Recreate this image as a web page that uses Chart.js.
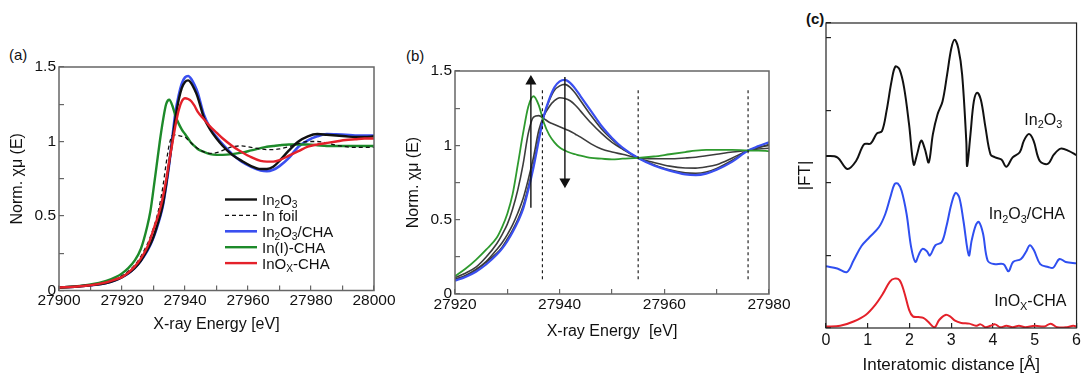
<!DOCTYPE html>
<html><head><meta charset="utf-8">
<script src="https://cdn.jsdelivr.net/npm/chart.js@4/dist/chart.umd.min.js"></script>
<style>
html,body{margin:0;padding:0;background:#fff;width:1089px;height:376px;overflow:hidden;font-family:"Liberation Sans",Arial,sans-serif;}
canvas{position:absolute;left:0;top:0;}
.pl{position:absolute;font-size:15px;color:#111;line-height:1;}
</style></head><body>
<div class="pl" style="left:9px;top:47px">(a)</div>
<div class="pl" style="left:406px;top:48px">(b)</div>
<div class="pl" style="left:806px;top:11px;font-weight:bold">(c)</div>
<canvas id="ca" width="1089" height="376"></canvas>
<canvas id="cb" width="1089" height="376"></canvas>
<canvas id="cc" width="1089" height="376"></canvas>
<script>
// ---------- DATA: panel (a) ----------
const energyA = [27900,27905,27910,27915,27918,27920,27922,27924,27926,27928,27929,27930,27931,27932,27933,27934,27935,27936,27937,27938,27939,27940,27941,27942,27943,27944,27946,27948,27950,27952,27955,27958,27961,27964,27966,27968,27970,27973,27976,27979,27982,27985,27988,27991,27994,27997,28000];
const aIn2O3   = [0.02,0.025,0.035,0.05,0.07, 0.09,0.115,0.15,0.2,0.27, 0.31,0.36,0.425,0.495,0.58, 0.71,0.86,1.01,1.16,1.28, 1.36,1.40,1.41,1.39,1.35, 1.30,1.16,1.08,1.02,0.97, 0.91,0.87,0.835,0.815,0.815, 0.83,0.87,0.94,1.0,1.035, 1.05,1.045,1.04,1.035,1.03, 1.03,1.035];
const aInFoil  = [0.02,0.025,0.035,0.055,0.075, 0.1,0.13,0.17,0.23,0.31, 0.36,0.42,0.49,0.58,0.70, 0.85,0.98,1.04,1.045,1.04, 1.035,1.03,1.01,0.99,0.97, 0.955,0.93,0.92,0.925,0.94, 0.965,0.97,0.96,0.95,0.945, 0.945,0.95,0.965,0.985,1.0, 1.0,0.99,0.975,0.965,0.96, 0.96,0.96];
const aIn2O3CHA= [0.02,0.025,0.035,0.05,0.07, 0.09,0.115,0.15,0.2,0.265, 0.305,0.355,0.415,0.485,0.57, 0.70,0.85,1.03,1.2,1.31, 1.39,1.43,1.44,1.42,1.38, 1.33,1.18,1.09,1.03,0.98, 0.915,0.865,0.83,0.805,0.80, 0.81,0.835,0.89,0.965,1.008, 1.035,1.05,1.048,1.045,1.04, 1.04,1.04];
const aInICHA  = [0.02,0.027,0.04,0.065,0.09, 0.115,0.15,0.2,0.28,0.43, 0.53,0.68,0.84,1.0,1.14, 1.25,1.28,1.24,1.17,1.12, 1.08,1.05,1.02,0.99,0.97, 0.95,0.93,0.915,0.91,0.91, 0.915,0.925,0.94,0.955,0.965, 0.97,0.975,0.98,0.98,0.98, 0.975,0.97,0.97,0.97,0.97, 0.97,0.97];
const aInOxCHA = [0.02,0.025,0.035,0.055,0.075, 0.09,0.12,0.16,0.215,0.29, 0.345,0.41,0.47,0.54,0.63, 0.74,0.87,0.99,1.11,1.21, 1.27,1.29,1.285,1.27,1.24, 1.20,1.15,1.10,1.06,1.02, 0.97,0.93,0.895,0.87,0.865, 0.865,0.875,0.905,0.935,0.965, 0.98,0.99,1.0,1.01,1.015, 1.02,1.02];

// ---------- DATA: panel (b) ----------
const energyB = [27920,27922,27924,27926,27928,27929,27930,27931,27932,27933,27934,27935,27936,27937,27938,27939,27940,27941,27942,27943,27944,27946,27948,27950,27952,27955,27958,27961,27964,27966,27968,27970,27973,27976,27978,27980];
const bBlue  = [0.09,0.115,0.15,0.2,0.265, 0.305,0.355,0.415,0.485,0.57, 0.70,0.85,1.03,1.2,1.31, 1.39,1.43,1.44,1.42,1.38, 1.33,1.23,1.13,1.05,0.985, 0.915,0.865,0.83,0.805,0.80, 0.81,0.835,0.89,0.965,0.995, 1.02];
const bGray2 = [0.095,0.12,0.16,0.215,0.275, 0.315,0.37,0.43,0.50,0.59, 0.72,0.87,1.05,1.2,1.30, 1.37,1.40,1.41,1.39,1.35, 1.30,1.20,1.11,1.04,0.98, 0.915,0.87,0.835,0.815,0.812, 0.82,0.845,0.9,0.965,0.985, 1.005];
const bGray3 = [0.10,0.125,0.165,0.22,0.30, 0.345,0.40,0.465,0.545,0.64, 0.77,0.92,1.10,1.2,1.26, 1.30,1.32,1.315,1.30,1.27, 1.23,1.15,1.08,1.02,0.975, 0.915,0.885,0.86,0.848,0.847, 0.855,0.87,0.915,0.965,0.985, 1.0];
const bGray1 = [0.11,0.14,0.18,0.25,0.34, 0.40,0.47,0.57,0.70,0.87, 1.08,1.19,1.2,1.18,1.155, 1.14,1.125,1.11,1.095,1.075, 1.055,1.01,0.975,0.955,0.94, 0.915,0.91,0.91,0.915,0.92, 0.93,0.94,0.955,0.965,0.975, 0.98];
const bGreen = [0.12,0.17,0.23,0.3,0.38, 0.45,0.54,0.67,0.87,1.08, 1.26,1.33,1.27,1.15,1.07, 1.02,0.985,0.965,0.95,0.94, 0.93,0.915,0.91,0.905,0.91, 0.915,0.925,0.94,0.955,0.965, 0.97,0.97,0.97,0.965,0.965, 0.96];
const arrowUpX = [27934.5, 27934.5];
const arrowUpY = [0.58, 1.43];
const arrowDownX = [27941, 27941];
const arrowDownY = [1.46, 0.755];
const isosbesticX = [27936.7, 27955, 27976];
const isosbesticY = [0.1, 1.38];

// ---------- DATA: panel (c) ----------
const rIn2O3 = [0,0.27,0.51,0.72,0.91,1.07,1.22,1.34,1.45,1.57,1.66,1.76,1.87,1.99,2.10,2.18,2.28,2.37,2.46,2.56,2.67,2.79,2.90,3.00,3.08,3.17,3.26,3.36,3.38,3.46,3.54,3.62,3.71,3.82,3.94,4.05,4.20,4.32,4.47,4.64,4.74,4.86,4.97,5.12,5.31,5.46,5.62,5.81,6.0];
const ftIn2O3 = [2.37,2.35,2.19,2.30,2.53,2.54,2.68,2.71,2.99,3.40,3.60,3.56,3.31,2.80,2.25,2.39,2.58,2.46,2.28,2.67,2.94,3.12,3.49,3.85,3.97,3.85,3.49,2.57,2.23,2.67,3.12,3.24,3.14,2.76,2.39,2.35,2.32,2.22,2.35,2.42,2.58,2.67,2.58,2.30,2.26,2.39,2.47,2.44,2.38];
const rIn2O3CHA = [0,0.27,0.50,0.66,0.85,1.04,1.27,1.42,1.54,1.64,1.72,1.81,1.93,2.04,2.14,2.23,2.31,2.41,2.49,2.62,2.77,2.88,3.00,3.10,3.19,3.29,3.42,3.49,3.59,3.66,3.76,3.87,4.02,4.25,4.37,4.48,4.67,4.79,4.88,4.98,5.13,5.32,5.44,5.59,5.74,6.0];
const ftIn2O3CHA = [0.85,0.82,0.77,0.93,1.13,1.25,1.39,1.57,1.80,1.98,1.99,1.89,1.57,1.11,0.91,1.02,1.09,1.06,1.00,1.14,1.18,1.39,1.70,1.86,1.80,1.48,1.00,1.21,1.42,1.46,1.30,0.93,0.88,0.88,0.78,0.91,0.95,1.05,1.14,1.07,0.88,0.84,0.83,0.95,0.91,0.89];
const rInOxCHA = [0,0.34,0.66,0.95,1.18,1.37,1.53,1.64,1.76,1.87,1.99,2.08,2.21,2.33,2.44,2.60,2.71,2.86,2.97,3.09,3.24,3.43,3.59,3.70,3.82,3.94,4.05,4.17,4.32,4.47,4.62,4.77,5.0,5.23,5.38,5.54,5.77,5.92,6.0];
const ftInOxCHA = [0.02,0.03,0.09,0.18,0.32,0.48,0.64,0.68,0.66,0.50,0.25,0.16,0.15,0.14,0.09,0.01,0.11,0.18,0.16,0.10,0.07,0.06,0.03,0.05,0.01,0.03,0.05,0.01,0.03,0.01,0.03,0.01,0.03,0.02,0.06,0.01,0.01,0.03,0.02];

// ---------- helpers ----------
const FAMILY = "'Liberation Sans', Arial, Helvetica, sans-serif";
Chart.defaults.font.family = FAMILY;
Chart.defaults.color = '#111';
const pts = (xs, ys) => xs.map((x, i) => ({x, y: ys[i]}));

function drawRich(ctx, str, x, y, size, color) {
  const parts = []; let buf = ''; let i = 0;
  while (i < str.length) {
    if (str[i] === '_') {
      if (buf) { parts.push({t: buf, sub: false}); buf = ''; }
      i++; parts.push({t: str[i], sub: true}); i++;
    } else { buf += str[i]; i++; }
  }
  if (buf) parts.push({t: buf, sub: false});
  ctx.save(); ctx.fillStyle = color; ctx.textBaseline = 'alphabetic'; ctx.textAlign = 'left';
  let cx = x;
  for (const p of parts) {
    const fs = p.sub ? size * 0.68 : size;
    ctx.font = fs + 'px ' + FAMILY;
    ctx.fillText(p.t, cx, y + (p.sub ? size * 0.22 : 0));
    cx += ctx.measureText(p.t).width;
  }
  ctx.restore();
}

const framePlugin = {
  id: 'frame',
  afterDraw(chart, args, o) {
    const {left, top, right, bottom} = chart.chartArea; const c = chart.ctx;
    c.save(); c.strokeStyle = o.color; c.lineWidth = o.width;
    c.strokeRect(left, top, right - left, bottom - top); c.restore();
  }
};
const legendPlugin = {
  id: 'richLegend',
  afterDraw(chart, args, o) {
    if (!o.show) return;
    const c = chart.ctx; const a = chart.chartArea;
    const sets = chart.data.datasets.filter(d => d.legendRank !== undefined).sort((p, q) => p.legendRank - q.legendRank);
    sets.forEach((d, k) => {
      const y = a.top + o.dy + k * o.rowH;
      const x0 = a.left + o.dx;
      c.save(); c.strokeStyle = d.borderColor; c.lineWidth = d.borderWidth;
      c.setLineDash(d.borderDash || []);
      c.beginPath(); c.moveTo(x0, y); c.lineTo(x0 + o.lineLen, y); c.stroke(); c.restore();
      drawRich(c, d.label, x0 + o.lineLen + o.gap, y + o.size * 0.36, o.size, '#111');
    });
  }
};
const textPlugin = {
  id: 'richText',
  afterDraw(chart, args, o) {
    if (!o.items) return;
    const c = chart.ctx;
    o.items.forEach(it => {
      const x = chart.scales.x.getPixelForValue(it.x);
      const y = chart.scales.y.getPixelForValue(it.y);
      drawRich(c, it.text, x, y + o.size * 0.36, o.size, '#111');
    });
  }
};

function axis(opts) {
  return Object.assign({
    type: 'linear',
    border: {display: false},
    grid: {drawOnChartArea: false, drawTicks: true, tickLength: -5, color: opts.tickColor, lineWidth: 1.2},
  }, opts.base);
}

const line = (label, xs, ys, color, width, extra) => Object.assign({
  label, data: pts(xs, ys), borderColor: color, backgroundColor: color, borderWidth: width,
  pointRadius: 0, cubicInterpolationMode: 'monotone', fill: false
}, extra || {});

const commonOpts = {responsive: false, animation: false, events: [], plugins: {legend: {display: false}, tooltip: {enabled: false}}};

// ---------- panel (a) ----------
new Chart(document.getElementById('ca'), {
  type: 'line',
  data: {datasets: [
    line('In_2O_3', energyA, aIn2O3, '#111111', 2.4, {legendRank: 0, order: 2}),
    line('In foil', energyA, aInFoil, '#111111', 1.3, {legendRank: 1, borderDash: [4, 3], order: 1}),
    line('In_2O_3/CHA', energyA, aIn2O3CHA, '#3a4ff0', 2.6, {legendRank: 2, order: 4}),
    line('In(I)-CHA', energyA, aInICHA, '#1d8a2a', 2.4, {legendRank: 3, order: 3}),
    line('InO_X-CHA', energyA, aInOxCHA, '#e4212a', 2.4, {legendRank: 4, order: 0}),
  ]},
  plugins: [framePlugin, legendPlugin],
  options: Object.assign({}, commonOpts, {
    layout: {padding: {left: 0, top: 67, right: 715, bottom: 40}},
    plugins: {legend: {display: false}, tooltip: {enabled: false},
      frame: {color: '#666', width: 1.5},
      richLegend: {show: true, dx: 166, dy: 132.5, rowH: 15.9, lineLen: 32, gap: 5, size: 15}},
    scales: {
      x: axis({tickColor: '#666', base: {min: 27900, max: 28000, position: 'bottom',
        afterFit: s => { s.height = 45.5; },
        ticks: {stepSize: 10, autoSkip: false, maxRotation: 0, padding: 6, font: {size: 15.5}, color: '#111',
          callback: v => (Math.round(v) % 20 === 0 ? String(v) : '')},
        title: {display: true, text: 'X-ray Energy [eV]', font: {size: 16}, color: '#111', padding: {top: 0, bottom: 2}}}}),
      y: axis({tickColor: '#666', base: {min: 0, max: 1.5, position: 'left',
        afterFit: s => { s.width = 59; },
        ticks: {stepSize: 0.25, autoSkip: false, padding: 8, font: {size: 15.5}, color: '#111',
          callback: v => (Math.abs(v * 2 - Math.round(v * 2)) < 1e-6 ? String(Math.round(v * 100) / 100) : '')},
        title: {display: true, text: 'Norm. χμ (E)', font: {size: 16}, color: '#111', padding: {top: 8.4, bottom: 0}}}})
    }
  })
});

// ---------- panel (b) ----------
const vlines = isosbesticX.map(x => line('', [x, x], isosbesticY, '#111111', 1.1, {borderDash: [3, 3], cubicInterpolationMode: 'default', order: 0}));
const arrowHead = rot => ({pointStyle: 'triangle', pointRotation: rot,
  pointRadius: c => (c.dataIndex === 1 ? 5 : 0), cubicInterpolationMode: 'default', order: -1});
new Chart(document.getElementById('cb'), {
  type: 'line',
  data: {datasets: [
    line('', arrowUpX, arrowUpY, '#111111', 1.4, arrowHead(0)),
    line('', arrowDownX, arrowDownY, '#111111', 1.4, arrowHead(180)),
    ...vlines,
    line('', energyB, bGreen, '#2e9a2e', 1.8, {order: 1}),
    line('', energyB, bBlue, '#3a4ff0', 2.2, {order: 2}),
    line('', energyB, bGray2, '#3c3c3c', 1.6, {order: 3}),
    line('', energyB, bGray3, '#3c3c3c', 1.6, {order: 3}),
    line('', energyB, bGray1, '#3c3c3c', 1.6, {order: 3}),
  ]},
  plugins: [framePlugin],
  options: Object.assign({}, commonOpts, {
    layout: {padding: {left: 396, top: 71, right: 320, bottom: 33}},
    plugins: {legend: {display: false}, tooltip: {enabled: false}, frame: {color: '#666', width: 1.5}},
    scales: {
      x: axis({tickColor: '#666', base: {min: 27920, max: 27980, position: 'bottom',
        afterFit: s => { s.height = 49; },
        ticks: {stepSize: 10, autoSkip: false, maxRotation: 0, padding: 6, font: {size: 15.5}, color: '#111',
          callback: v => (Math.round(v) % 20 === 0 ? String(v) : '')},
        title: {display: true, text: 'X-ray Energy  [eV]', font: {size: 16}, color: '#111', padding: {top: 0, bottom: 2}}}}),
      y: axis({tickColor: '#666', base: {min: 0, max: 1.5, position: 'left',
        afterFit: s => { s.width = 59; },
        ticks: {stepSize: 0.25, autoSkip: false, padding: 8, font: {size: 15.5}, color: '#111',
          callback: v => (Math.abs(v * 2 - Math.round(v * 2)) < 1e-6 ? String(Math.round(v * 100) / 100) : '')},
        title: {display: true, text: 'Norm. χμ (E)', font: {size: 16}, color: '#111', padding: {top: 8.4, bottom: 0}}}})
    }
  })
});

// ---------- panel (c) ----------
const smooth = {cubicInterpolationMode: 'default', tension: 0.35};
new Chart(document.getElementById('cc'), {
  type: 'line',
  data: {datasets: [
    line('In_2O_3', rIn2O3, ftIn2O3, '#111111', 2, smooth),
    line('In_2O_3/CHA', rIn2O3CHA, ftIn2O3CHA, '#2f4ff0', 2, smooth),
    line('InO_X-CHA', rInOxCHA, ftInOxCHA, '#e4212a', 2, smooth),
  ]},
  plugins: [framePlugin, textPlugin],
  options: Object.assign({}, commonOpts, {
    layout: {padding: {left: 790, top: 23, right: 2, bottom: 0}},
    plugins: {legend: {display: false}, tooltip: {enabled: false}, frame: {color: '#222', width: 1.2},
      richText: {size: 16, items: [
        {text: 'In_2O_3', x: 4.75, y: 2.88},
        {text: 'In_2O_3/CHA', x: 3.9, y: 1.58},
        {text: 'InO_X-CHA', x: 4.03, y: 0.38}
      ]}},
    scales: {
      x: axis({tickColor: '#222', base: {min: 0, max: 6, position: 'bottom',
        afterFit: s => { s.height = 48; },
        ticks: {stepSize: 1, autoSkip: false, maxRotation: 0, padding: 8, font: {size: 16}, color: '#111'},
        title: {display: true, text: 'Interatomic distance [Å]', font: {size: 17}, color: '#111', padding: {top: 0, bottom: 0}}}}),
      y: axis({tickColor: '#222', base: {min: 0, max: 4.2, position: 'left',
        afterFit: s => { s.width = 36; },
        ticks: {stepSize: 1, autoSkip: false, padding: 8, callback: () => ''},
        title: {display: true, text: '|FT|', font: {size: 17}, color: '#111', padding: {top: 5, bottom: 0}}}})
    }
  })
});
</script>
</body></html>
